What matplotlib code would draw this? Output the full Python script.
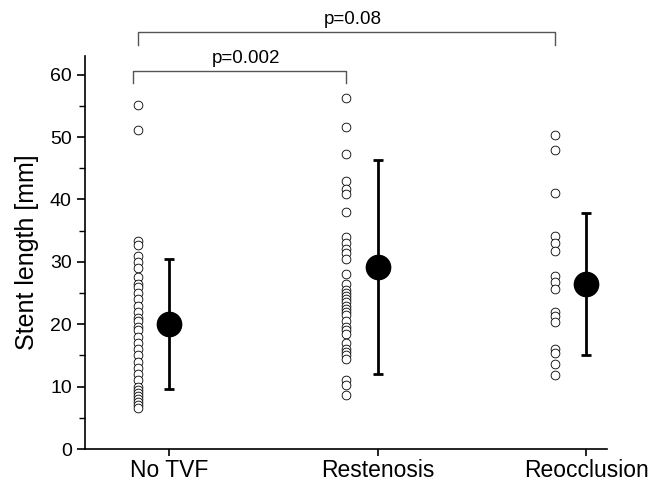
import matplotlib
matplotlib.use("Agg")
import matplotlib.pyplot as plt
from matplotlib.ticker import MultipleLocator

plt.rcParams['font.family'] = ['Liberation Sans', 'DejaVu Sans']

categories = ["No TVF", "Restenosis", "Reocclusion"]

no_tvf = [55.2, 51.1, 33.3, 32.7, 31.0, 30.0, 29.0, 27.5, 26.5, 26.0, 25.0, 24.0,
          23.0, 22.0, 21.0, 20.5, 19.5, 19.0, 18.0, 17.0, 16.0, 15.0, 14.0, 13.0,
          12.0, 11.0, 10.0, 9.5, 9.0, 8.5, 8.0, 7.5, 7.0, 6.5]
restenosis = [56.2, 51.6, 47.3, 43.0, 41.7, 40.8, 38.0, 34.0, 33.0, 32.0, 31.5, 30.5,
              28.0, 26.5, 25.5, 25.0, 24.5, 24.0, 23.5, 23.0, 22.5, 22.0, 21.5, 20.5,
              19.5, 19.0, 18.5, 17.0, 16.0, 15.5, 15.0, 14.5, 11.0, 10.3, 8.6]
reocclusion = [50.4, 48.0, 41.0, 34.2, 33.0, 31.7, 27.7, 26.8, 25.6, 22.0, 21.3,
               20.3, 16.0, 15.4, 13.6, 11.9]

means = [20.0, 29.2, 26.4]
err_low = [9.6, 12.0, 15.0]
err_high = [30.4, 46.3, 37.8]

p_values = ["p=0.002", "p=0.08"]

groups = [no_tvf, restenosis, reocclusion]

fig = plt.figure(figsize=(6.67, 4.84), dpi=100)
ax = fig.add_axes([0.1274, 0.0723, 0.7826, 0.812])

pos = [1, 2, 3]
offset = 0.151
for p, vals in zip(pos, groups):
    ax.plot([p - offset] * len(vals), vals, linestyle='none', marker='o',
            markersize=6.3, markerfacecolor='white', markeredgecolor='black',
            markeredgewidth=0.6)

yerr = [[m - lo for m, lo in zip(means, err_low)],
        [hi - m for m, hi in zip(means, err_high)]]
ax.errorbar(pos, means, yerr=yerr, fmt='o', color='black', markersize=17.5,
            elinewidth=2, capsize=3.5, capthick=2)

ax.set_xlim(0.597, 3.10)
ax.set_ylim(0, 63)
ax.spines['top'].set_visible(False)
ax.spines['right'].set_visible(False)
ax.spines['left'].set_linewidth(1.2)
ax.spines['bottom'].set_linewidth(1.2)
ax.set_xticks(pos)
ax.set_xticklabels(categories, fontsize=16.5)
ax.set_yticks(range(0, 61, 10))
ax.yaxis.set_minor_locator(MultipleLocator(5))
ax.tick_params(axis='y', which='major', labelsize=14, length=6, width=1.2, direction='out')
ax.tick_params(axis='y', which='minor', length=4, width=1.0, direction='out')
ax.tick_params(axis='x', which='major', length=5, width=1.2, direction='out', pad=2.5)
ax.set_ylabel("Stent length [mm]", fontsize=18, labelpad=8)

# significance brackets
def bracket(x1, x2, y_top, y_bot, label):
    ax.plot([x1, x1, x2, x2], [y_bot, y_top, y_top, y_bot], color='#555555',
            linewidth=1.0, clip_on=False)
    ax.text((x1 + x2) / 2 + 0.03, y_top + 0.7, label, ha='center', va='bottom',
            fontsize=13.5)

bracket(1 - offset - 0.02, 2 - offset, 60.6, 58.6, p_values[0])
bracket(1 - offset, 3 - offset, 66.8, 64.7, p_values[1])

fig.savefig("out.png", dpi=100)
